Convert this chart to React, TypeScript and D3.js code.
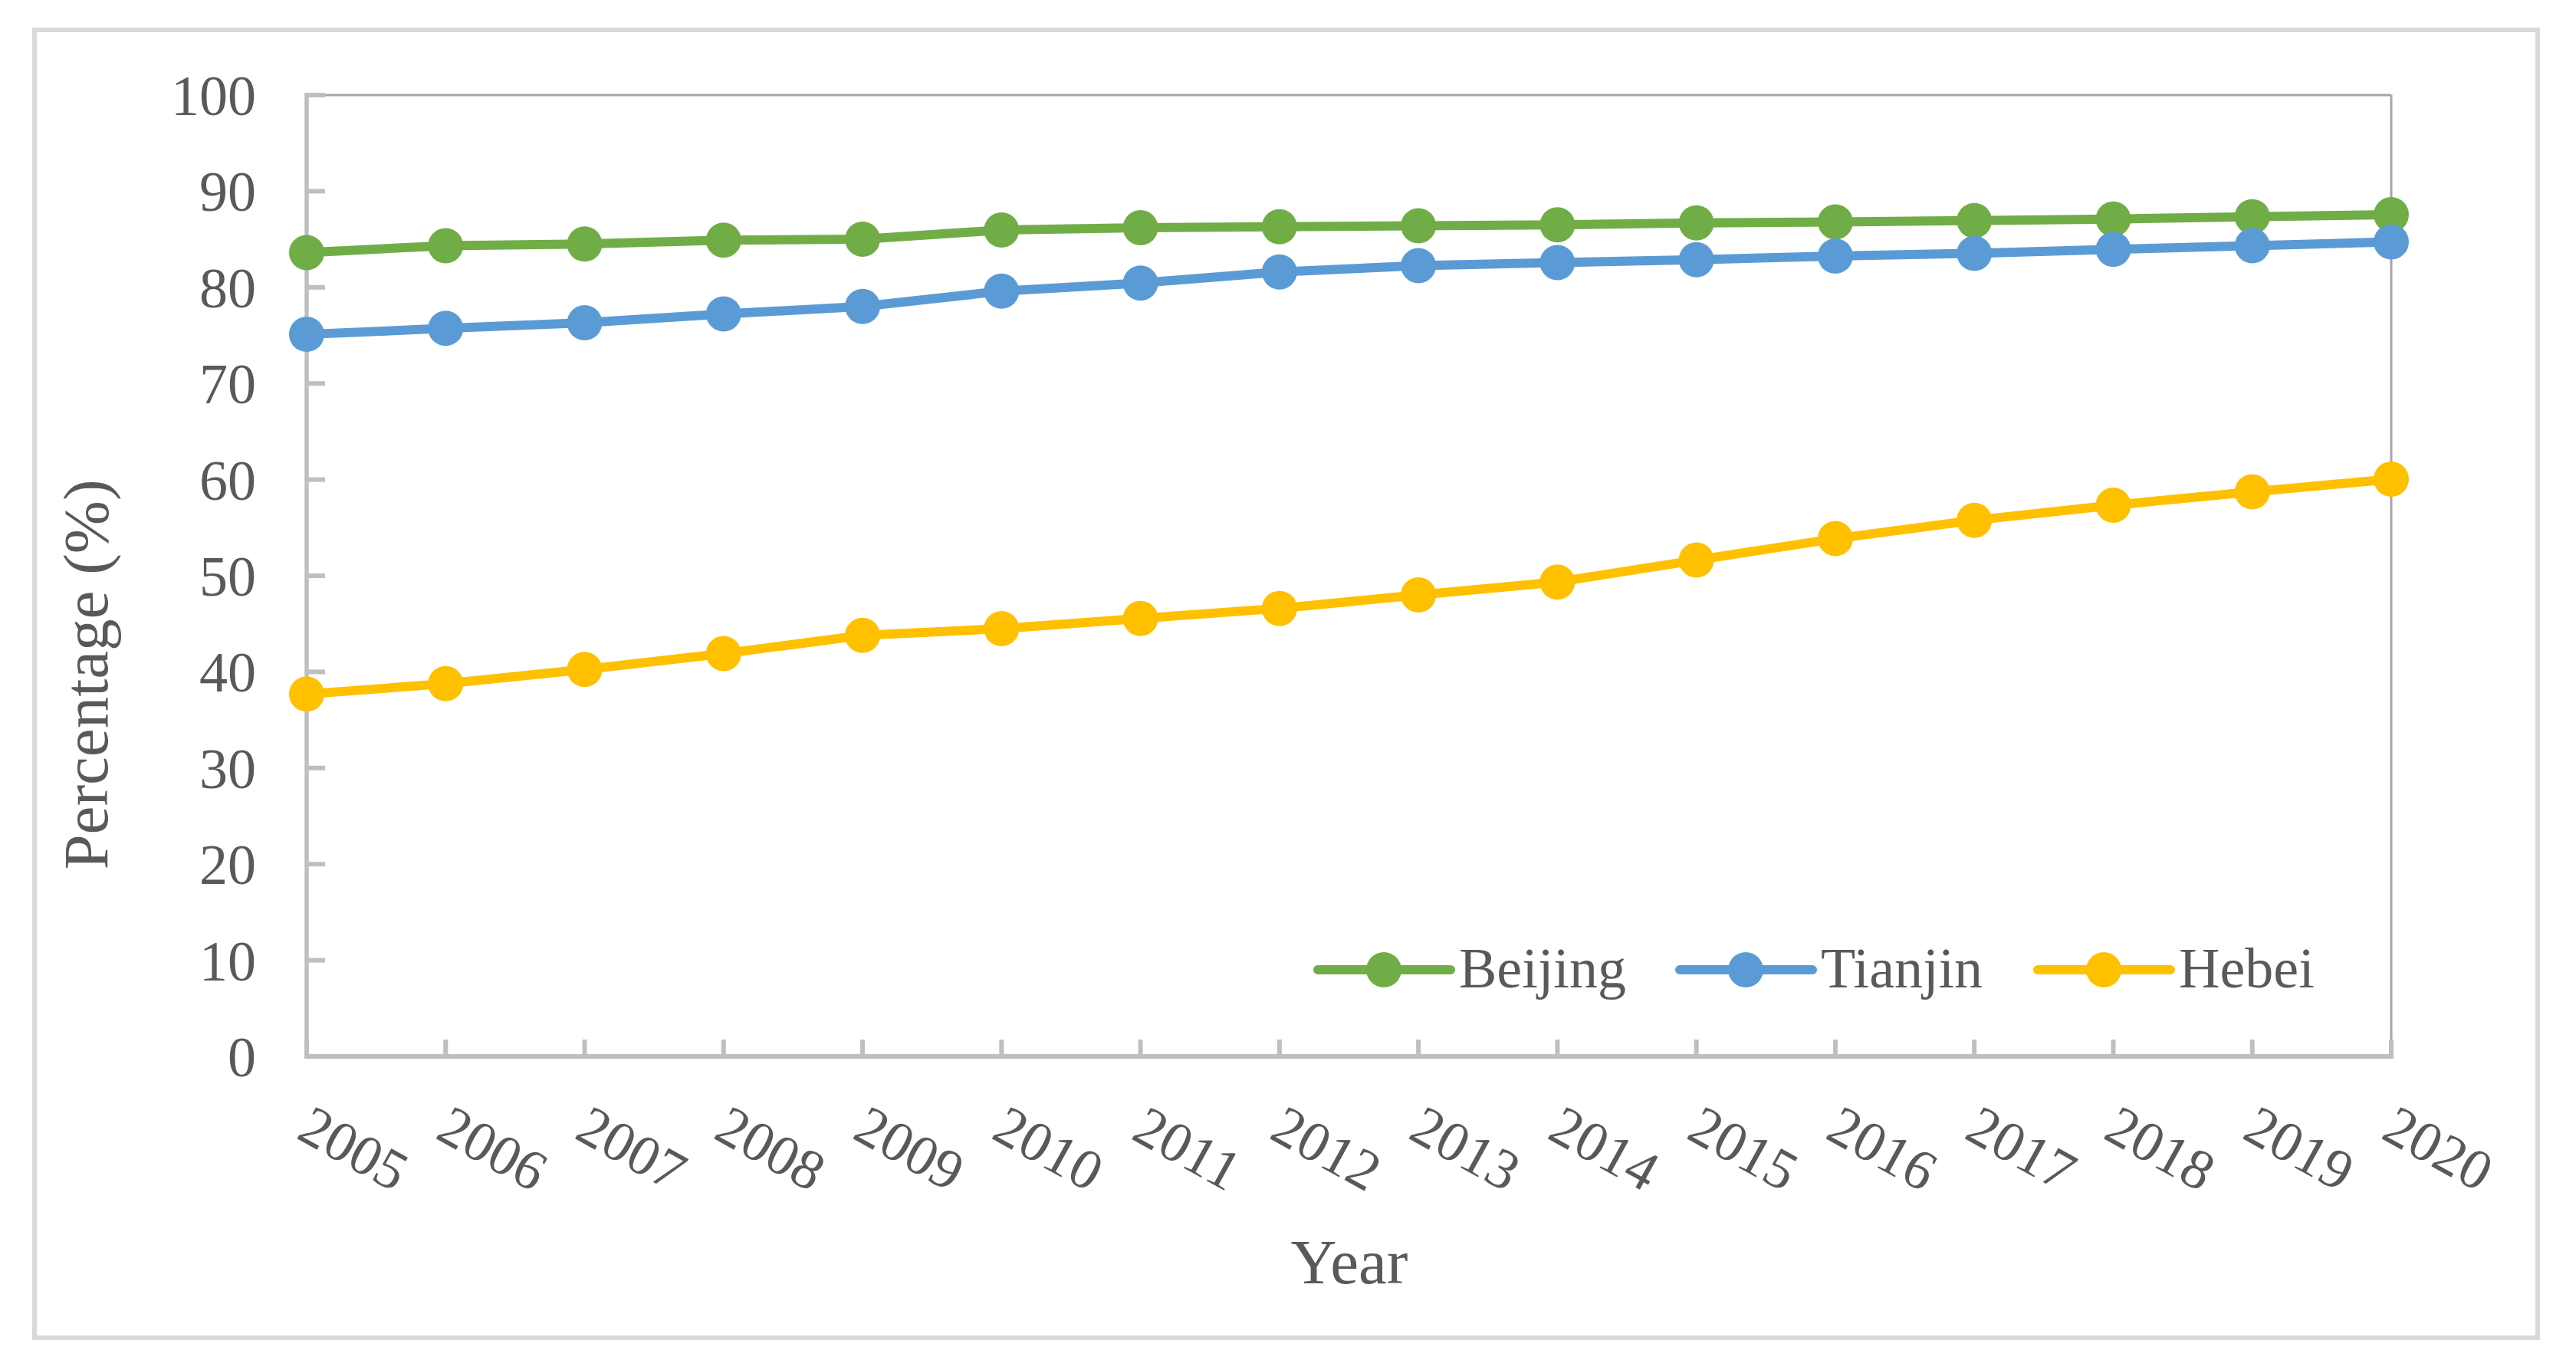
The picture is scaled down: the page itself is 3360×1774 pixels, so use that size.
import React from "react";
import * as d3 from "d3";

const years = ["2005","2006","2007","2008","2009","2010","2011","2012","2013","2014","2015","2016","2017","2018","2019","2020"];
const beijing = [83.62, 84.33, 84.5, 84.9, 85.0, 85.96, 86.2, 86.3, 86.4, 86.5, 86.7, 86.8, 86.95, 87.1, 87.35, 87.55];
const tianjin = [75.11, 75.73, 76.31, 77.23, 78.01, 79.6, 80.45, 81.6, 82.26, 82.58, 82.87, 83.26, 83.54, 83.95, 84.33, 84.72];
const hebei = [37.69, 38.77, 40.25, 41.9, 43.8, 44.5, 45.56, 46.6, 48.0, 49.35, 51.63, 53.86, 55.77, 57.34, 58.73, 60.05];
const yTicks = [0, 10, 20, 30, 40, 50, 60, 70, 80, 90, 100];
const seriesNames = ["Beijing", "Tianjin", "Hebei"];
const seriesColors = ["#70AD47", "#5B9BD5", "#FFC000"];

const W = 3360, H = 1774;
const L = 400, R = 3119, T = 124, B = 1378;
const FONT = "'Liberation Serif', 'Times New Roman', serif";
const TXT = "#595959";

export default function App() {
  const x = d3.scalePoint<string>().domain(years).range([L, R]).padding(0);
  const y = d3.scaleLinear().domain([0, 100]).range([B, T]);
  const line = d3.line<number>().x((_, i) => x(years[i]) as number).y((d) => y(d));
  const series = [beijing, tianjin, hebei];
  const legendX = [1719, 2191, 2658];

  return (
    <svg width={W} height={H} style={{ position: "absolute", left: 0, top: 0, background: "#fff" }} fontFamily={FONT}>
      <rect x={0} y={0} width={W} height={H} fill="#fff" />
      <rect x={45} y={39} width={3265} height={1706} fill="#fff" stroke="#d9d9d9" strokeWidth={6} />
      {/* plot border top/right */}
      <line x1={L} x2={R} y1={T} y2={T} stroke="#a6a6a6" strokeWidth={3} />
      <line x1={R} x2={R} y1={T} y2={B} stroke="#a6a6a6" strokeWidth={3} />
      {/* y axis */}
      <line x1={L} x2={L} y1={T - 3} y2={B + 3} stroke="#bfbfbf" strokeWidth={5.5} />
      {yTicks.map((t) => (
        <g key={t}>
          <line x1={L} x2={L + 24} y1={y(t)} y2={y(t)} stroke="#bfbfbf" strokeWidth={6} />
          <text x={334} y={y(t)} dy="0.35em" textAnchor="end" fontSize={74} fill={TXT}>{t}</text>
        </g>
      ))}
      {/* x axis */}
      <line x1={L - 3} x2={R + 3} y1={B} y2={B} stroke="#bfbfbf" strokeWidth={6} />
      {years.map((yr) => (
        <g key={yr}>
          <line x1={x(yr)} x2={x(yr)} y1={B} y2={B - 22} stroke="#bfbfbf" strokeWidth={6} />
          <text
            transform={`translate(${(x(yr) as number) + 62},${1497}) rotate(29)`}
            textAnchor="middle"
            dy="0.35em"
            fontSize={74}
            fill={TXT}
          >{yr}</text>
        </g>
      ))}
      {/* series */}
      {series.map((s, si) => (
        <g key={si}>
          <path d={line(s) || ""} fill="none" stroke={seriesColors[si]} strokeWidth={12} strokeLinejoin="round" strokeLinecap="round" />
          {s.map((v, i) => (
            <circle key={i} cx={x(years[i])} cy={y(v)} r={23} fill={seriesColors[si]} />
          ))}
        </g>
      ))}
      {/* legend */}
      {seriesNames.map((n, i) => (
        <g key={n}>
          <line x1={legendX[i]} x2={legendX[i] + 173} y1={1265} y2={1265} stroke={seriesColors[i]} strokeWidth={12} strokeLinecap="round" />
          <circle cx={legendX[i] + 86} cy={1265} r={23} fill={seriesColors[i]} />
          <text x={legendX[i] + 184} y={1288} fontSize={74} fill={TXT}>{n}</text>
        </g>
      ))}
      {/* axis titles */}
      <text x={1760} y={1674} textAnchor="middle" fontSize={83} fill={TXT}>Year</text>
      <text transform={`translate(140,880) rotate(-90)`} textAnchor="middle" fontSize={83} fill={TXT}>Percentage (%)</text>
    </svg>
  );
}
